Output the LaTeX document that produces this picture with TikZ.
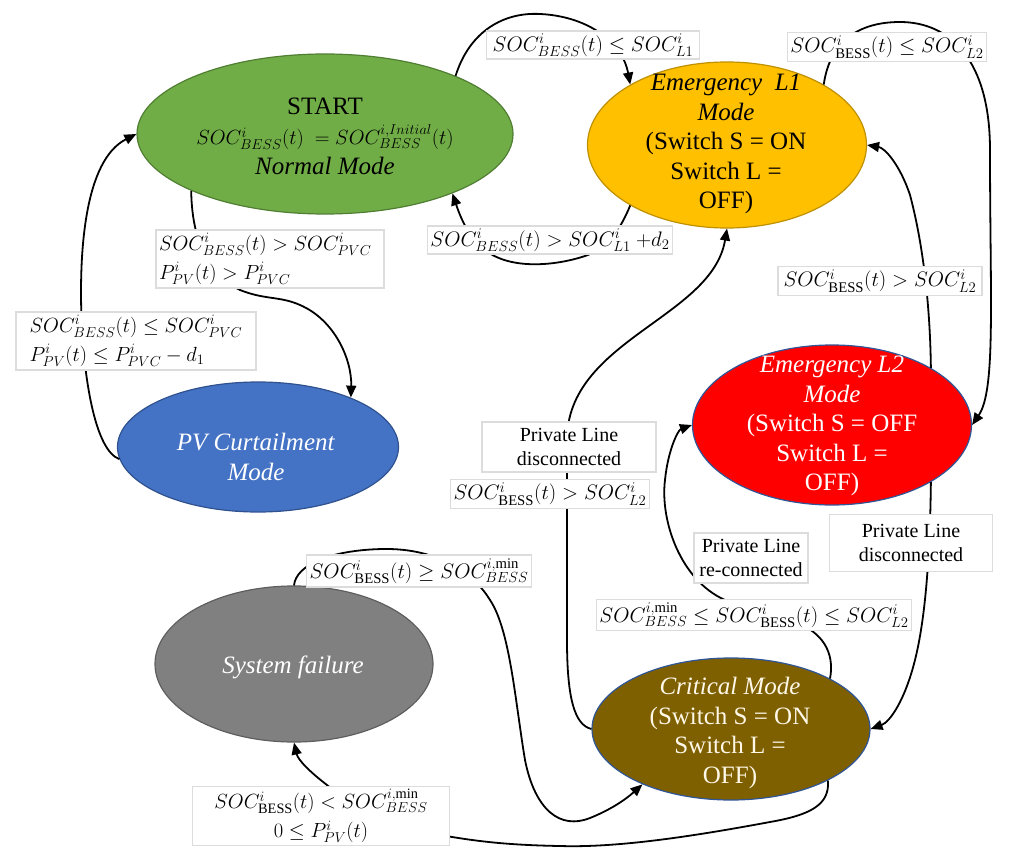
\RequirePackage{fix-cm}
\documentclass[tikz,border=0pt]{standalone}
\usepackage{fontspec}
\setmainfont{Liberation Serif}
\usetikzlibrary{shapes.geometric,arrows.meta}

\definecolor{startfill}{HTML}{70AD47}
\definecolor{startedge}{HTML}{507E32}
\definecolor{lonefill}{HTML}{FFC000}
\definecolor{loneedge}{HTML}{BF9000}
\definecolor{pvfill}{HTML}{4472C4}
\definecolor{pvedge}{HTML}{2F528F}
\definecolor{ltwofill}{HTML}{FF0000}
\definecolor{blueedge}{HTML}{2F5597}
\definecolor{failfill}{HTML}{808080}
\definecolor{failedge}{HTML}{5E5E5E}
\definecolor{critfill}{HTML}{7F6000}
\definecolor{condedge}{HTML}{DCDCDC}
\definecolor{crittext}{HTML}{FFF8E8}

\tikzset{
  state/.style={ellipse, draw, line width=1.2pt, inner sep=0pt},
  statetext/.style={align=center, inner sep=0pt, font=\fontsize{25}{29.5}\selectfont},
  cond/.style={draw=condedge, fill=white, line width=1.5pt, inner sep=3pt,
               font=\fontsize{21}{25}\selectfont},
  twoline/.style={cond, font=\fontsize{20.5}{29}\selectfont},
  plain/.style={cond, font=\fontsize{20}{24}\selectfont, align=center},
  flow/.style={line width=1.8pt, -{Triangle[length=12pt,width=10pt]}}
}

\begin{document}
\begin{tikzpicture}[x=1pt,y=-1pt]
\useasboundingbox (0,0) rectangle (1013,848);

% ---------- states ----------
\node[state, fill=startfill, draw=startedge, minimum width=376pt, minimum height=160pt] (start) at (325,134) {};
\node[state, fill=lonefill, draw=loneedge, minimum width=279pt, minimum height=166pt] (l1) at (727,145) {};
\node[state, fill=pvfill, draw=pvedge, minimum width=281pt, minimum height=130pt] (pv) at (258,447) {};
\node[state, fill=ltwofill, draw=blueedge, minimum width=279pt, minimum height=160pt] (l2) at (832,425) {};
\node[state, fill=failfill, draw=failedge, minimum width=278pt, minimum height=156pt] (fail) at (294,664) {};
\node[state, fill=critfill, draw=blueedge, minimum width=278pt, minimum height=142pt] (crit) at (731,729) {};

\node[statetext] (startt) at (325,136) {START\\[1pt]
  {\fontsize{20.5}{26}\selectfont $SOC^{i}_{BESS}(t)\ = SOC^{i,Initial}_{BESS}(t)$}\\
  \textit{Normal Mode}};
\node[statetext] (l1t) at (726,144) {\textit{Emergency\ \ L1}\\\textit{Mode}\\(Switch S = ON\\Switch L =\\OFF)};
\node[statetext, text=white] (pvt) at (256,457) {\textit{PV Curtailment}\\\textit{Mode}};
\node[statetext, text=white] (l2t) at (832,426) {\textit{Emergency L2}\\\textit{Mode}\\(Switch S = OFF\\Switch L =\\OFF)};
\node[statetext, text=white] (failt) at (293,667) {\textit{System failure}};
\node[statetext, text=crittext] (critt) at (730,733) {\textit{Critical Mode}\\(Switch S = ON\\Switch L =\\OFF)};

% ---------- transitions ----------
\draw[flow] (start.24) .. controls (470,30) and (505,12) .. (540,14)
            .. controls (585,16) and (622,40) .. (l1.148);
\draw[flow] (l1.212) .. controls (622,225) and (610,248) .. (585,256)
            .. controls (555,266) and (510,270) .. (485,250)
            .. controls (470,238) and (462,222) .. (start.-25);
\draw[flow] (l1.32) .. controls (830,40) and (860,22) .. (900,22)
            .. controls (950,22) and (990,60) .. (990,150)
            .. controls (990,300) and (996,390) .. (l2.east);
\draw[flow] (l2.30) .. controls (930,300) and (922,240) .. (910,195)
            .. controls (900,165) and (885,148) .. (l1.east);
\draw[flow] (l2.-30) .. controls (930,560) and (925,620) .. (915,660)
            .. controls (905,700) and (890,722) .. (crit.east);
\draw[flow] (crit.27) .. controls (835,652) and (822,632) .. (795,622)
            .. controls (770,614) and (745,610) .. (725,600)
            .. controls (680,580) and (660,520) .. (665,480)
            .. controls (668,450) and (678,430) .. (l2.west);
\draw[flow] (crit.west) .. controls (575,725) and (567,700) .. (567,640)
            -- (567,440)
            .. controls (567,340) and (712,318) .. (l1.south);
\draw[flow] (fail.north) .. controls (296,565) and (330,550) .. (383,549)
            .. controls (440,548) and (475,575) .. (490,600)
            .. controls (510,630) and (515,700) .. (525,760)
            .. controls (535,810) and (560,830) .. (590,818)
            .. controls (610,810) and (625,800) .. (crit.212);
\draw[flow] (crit.-28) .. controls (830,805) and (810,815) .. (770,822)
            .. controls (700,835) and (620,848) .. (560,846)
            .. controls (500,845) and (470,840) .. (440,835)
            .. controls (380,820) and (345,800) .. (327,785)
            .. controls (310,772) and (298,760) .. (fail.south);
\draw[flow] (start.203) .. controls (192,250) and (215,278) .. (240,290)
            .. controls (265,300) and (280,296) .. (300,305)
            .. controls (335,320) and (352,360) .. (pv.28);
\draw[flow] (pv.185) .. controls (95,450) and (85,380) .. (82,330)
            .. controls (78,250) and (85,160) .. (start.west);

% ---------- conditions ----------
\node[cond, minimum width=213pt, minimum height=27pt] (c1) at (593,45)
  {$SOC^{i}_{BESS}(t) \le SOC^{i}_{L1}$};
\node[cond, minimum width=195pt, minimum height=27pt] (c2) at (887,47)
  {$SOC^{i}_{\mathrm{BESS}}(t) \le SOC^{i}_{L2}$};
\node[twoline, text width=222pt, align=left, minimum height=58pt] (c3) at (270,259)
  {$SOC^{i}_{BESS}(t) > SOC^{i}_{PVC}$\\$P^{i}_{PV}(t) > P^{i}_{PVC}$};
\node[twoline, align=left, minimum width=240pt, minimum height=58pt] (c4) at (136,341)
  {$SOC^{i}_{BESS}(t) \le SOC^{i}_{PVC}$\\$P^{i}_{PV}(t) \le P^{i}_{PVC} - d_1$};
\node[cond, minimum width=230pt, minimum height=28pt] (c5) at (550,240)
  {$SOC^{i}_{BESS}(t) > SOC^{i}_{L1}\ {+}d_2$};
\node[cond, minimum width=204pt, minimum height=28pt] (c6) at (880,281)
  {$SOC^{i}_{\mathrm{BESS}}(t) > SOC^{i}_{L2}$};
\node[plain, minimum width=174pt, minimum height=50pt] (c7) at (569,447)
  {Private Line\\disconnected};
\node[cond, minimum width=184pt, minimum height=28pt] (c8) at (550,494)
  {$SOC^{i}_{\mathrm{BESS}}(t) > SOC^{i}_{L2}$};
\node[plain, minimum width=114pt, minimum height=50pt] (c9) at (751,558)
  {Private Line\\re-connected};
\node[plain, minimum width=163pt, minimum height=57pt] (c10) at (911,543)
  {Private Line\\disconnected};
\node[cond, minimum width=300pt, minimum height=31pt] (c11) at (754,615)
  {$SOC^{i,\mathrm{min}}_{BESS} \le SOC^{i}_{\mathrm{BESS}}(t) \le SOC^{i}_{L2}$};
\node[cond, minimum width=218pt, minimum height=32pt] (c12) at (419,571)
  {$SOC^{i}_{\mathrm{BESS}}(t) \ge SOC^{i,\mathrm{min}}_{BESS}$};
\node[twoline, align=center, minimum width=257pt, minimum height=58pt] (c13) at (321,816)
  {$SOC^{i}_{\mathrm{BESS}}(t) < SOC^{i,\mathrm{min}}_{BESS}$\\$0 \le P^{i}_{PV}(t)$};
\end{tikzpicture}
\end{document}
